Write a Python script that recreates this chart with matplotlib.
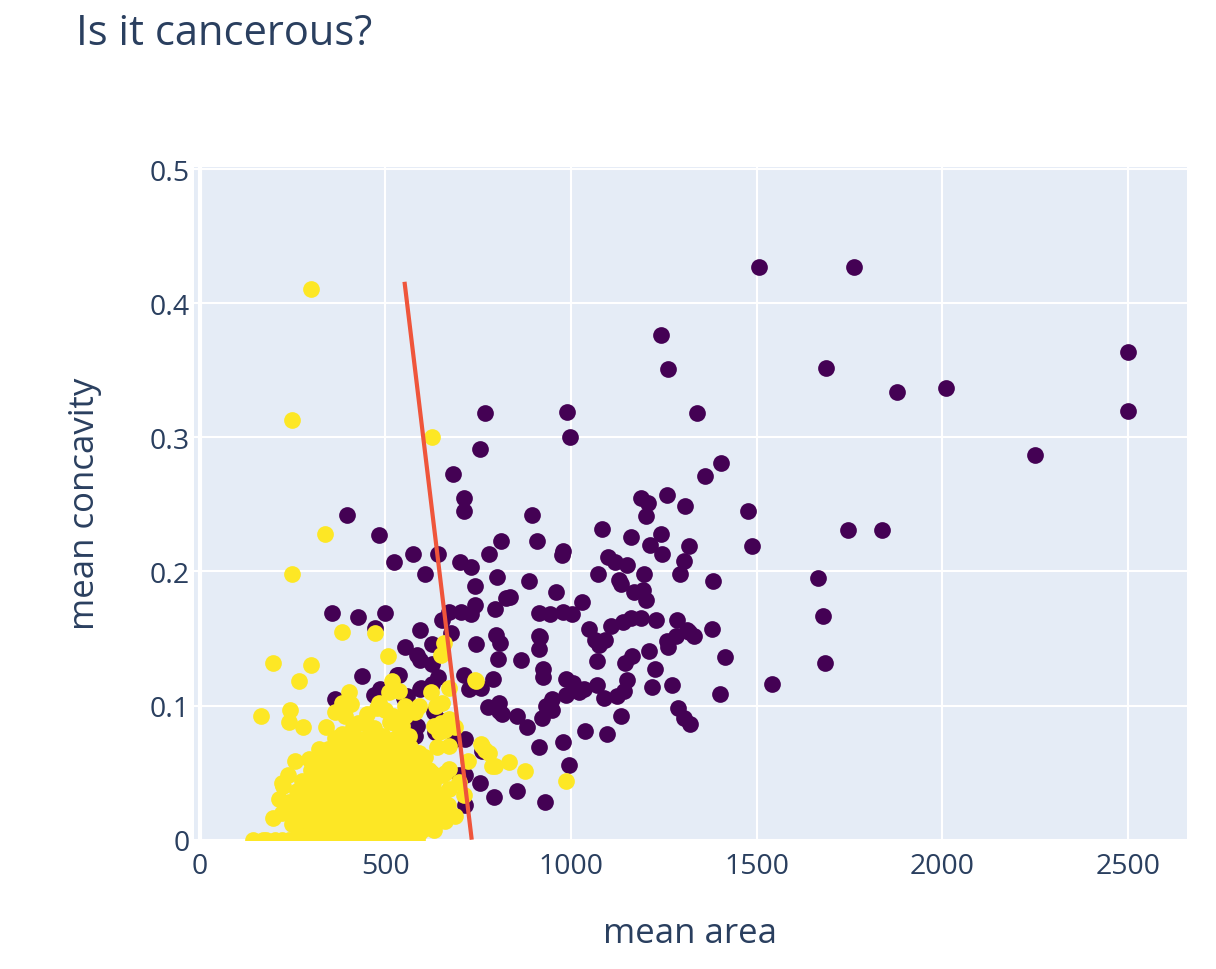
import numpy as np
import matplotlib
matplotlib.use("Agg")
import matplotlib.pyplot as plt

plt.rcParams['font.family'] = ['Open Sans', 'DejaVu Sans']

# malignant tumours (target 0) : (mean area, mean concavity)
malignant = [
    (1506, 0.427), (1762, 0.427), (2499, 0.364), (2499, 0.320), (1686, 0.352),
    (2010, 0.337), (1878, 0.334), (2251, 0.287), (1242, 0.376), (1262, 0.351),
    (1340, 0.318), (1403, 0.281), (1361, 0.271), (1478, 0.245), (1489, 0.219),
    (1745, 0.231), (1839, 0.231), (1666, 0.195), (1679, 0.167), (1683, 0.132),
    (1542, 0.116), (1383, 0.193), (1381, 0.157), (1415, 0.136), (1401, 0.109),
    (990, 0.319), (997, 0.300), (1084, 0.232), (1188, 0.255), (1208, 0.251),
    (1260, 0.257), (1201, 0.241), (1307, 0.249), (1162, 0.226), (1244, 0.228),
    (1214, 0.220), (1246, 0.213), (1318, 0.219), (1304, 0.208), (1294, 0.198),
    (1198, 0.198), (1100, 0.211), (1120, 0.207), (1152, 0.205), (1073, 0.198),
    (1129, 0.194), (1136, 0.191), (1170, 0.185), (1193, 0.186), (1203, 0.179),
    (910, 0.223), (896, 0.242), (979, 0.215), (976, 0.212), (960, 0.185),
    (1029, 0.177), (914, 0.169), (945, 0.168), (979, 0.170), (1003, 0.168),
    (1050, 0.157), (1066, 0.149), (1093, 0.149), (1075, 0.145), (1107, 0.159),
    (1140, 0.162), (1162, 0.165), (1190, 0.165), (1230, 0.164), (1286, 0.164),
    (1258, 0.148), (1262, 0.144), (1282, 0.152), (1314, 0.156), (1331, 0.152),
    (1318, 0.155), (1211, 0.141), (1165, 0.137), (1147, 0.132), (1071, 0.133),
    (1226, 0.127), (914, 0.152), (918, 0.151), (914, 0.142), (924, 0.127),
    (924, 0.121), (1152, 0.119), (1143, 0.111), (1125, 0.107), (1071, 0.115),
    (1089, 0.106), (1219, 0.114), (1271, 0.115), (986, 0.120), (1006, 0.117),
    (1035, 0.112), (988, 0.108), (1021, 0.110), (949, 0.105), (932, 0.100),
    (949, 0.097), (923, 0.091), (1289, 0.098), (1304, 0.091), (1322, 0.086),
    (1134, 0.092), (1038, 0.081), (1098, 0.079), (978, 0.073), (914, 0.069),
    (995, 0.056), (930, 0.028),
    (770, 0.318), (755, 0.291), (682, 0.273), (713, 0.255), (711, 0.245),
    (482, 0.227), (398, 0.242), (813, 0.223), (780, 0.213), (701, 0.207),
    (730, 0.203), (642, 0.213), (575, 0.213), (525, 0.207), (606, 0.198),
    (801, 0.196), (888, 0.193), (741, 0.189), (824, 0.180), (837, 0.181),
    (741, 0.175), (673, 0.170), (703, 0.170), (653, 0.164), (730, 0.168),
    (795, 0.172), (595, 0.156), (676, 0.154), (799, 0.153), (810, 0.147),
    (554, 0.144), (626, 0.146), (745, 0.146), (804, 0.135), (867, 0.134),
    (586, 0.138), (595, 0.134), (626, 0.131), (536, 0.123), (712, 0.123),
    (790, 0.120), (725, 0.112), (757, 0.113), (595, 0.112), (642, 0.121),
    (777, 0.099), (806, 0.102), (806, 0.096), (815, 0.094), (855, 0.092),
    (882, 0.084), (714, 0.075), (716, 0.048), (761, 0.066), (855, 0.036),
    (794, 0.032), (755, 0.042), (358, 0.169), (428, 0.166), (499, 0.169),
    (473, 0.158), (438, 0.122), (532, 0.123), (366, 0.105), (469, 0.108),
    (487, 0.112), (559, 0.107), (597, 0.113), (586, 0.085), (581, 0.077),
    (563, 0.060), (689, 0.075), (716, 0.026), (550, 0.106), (572, 0.085),
    (631, 0.095), (644, 0.089), (635, 0.080), (626, 0.116), (698, 0.048),
]

# benign tumours (target 1)
benign = [
    (300, 0.411), (250, 0.313), (626, 0.300), (338, 0.228), (248, 0.198),
    (385, 0.155), (473, 0.154), (507, 0.137), (199, 0.132), (299, 0.130),
    (269, 0.118), (166, 0.092), (244, 0.097), (240, 0.088), (278, 0.084),
    (341, 0.084), (403, 0.110), (407, 0.101), (385, 0.102), (366, 0.095),
    (393, 0.092), (428, 0.087), (384, 0.079), (482, 0.102), (509, 0.110),
    (517, 0.118), (500, 0.097), (536, 0.111), (527, 0.087), (554, 0.092),
    (590, 0.100), (554, 0.100), (581, 0.095), (649, 0.138), (658, 0.147),
    (743, 0.119), (745, 0.118), (653, 0.102), (622, 0.110), (671, 0.113),
    (636, 0.100), (640, 0.085), (671, 0.090), (644, 0.080), (631, 0.085),
    (662, 0.082), (689, 0.084), (649, 0.087), (536, 0.085), (563, 0.077),
    (554, 0.068), (590, 0.065), (558, 0.068), (640, 0.069), (671, 0.070),
    (722, 0.059), (761, 0.070), (779, 0.065), (788, 0.055), (757, 0.071),
    (768, 0.067), (797, 0.055), (833, 0.058), (876, 0.051), (988, 0.044),
    (626, 0.050), (671, 0.053), (653, 0.048), (662, 0.050), (698, 0.043),
    (671, 0.038), (653, 0.030), (671, 0.020), (662, 0.014), (631, 0.007),
    (689, 0.018), (711, 0.033), (617, 0.043), (608, 0.026), (258, 0.059),
    (294, 0.060), (321, 0.068), (343, 0.064), (238, 0.048), (226, 0.040),
    (222, 0.042), (213, 0.030), (222, 0.020), (199, 0.016),
    (143, 0.0), (170, 0.0), (178, 0.0), (203, 0.0), (221, 0.0), (240, 0.0),
    (268, 0.0), (284, 0.0), (311, 0.0), (330, 0.0), (359, 0.0), (380, 0.0),
    (410, 0.0), (431, 0.0), (465, 0.0), (489, 0.0), (520, 0.0), (555, 0.0),
    (585, 0.0),
    (265, 0.004), (298, 0.006), (332, 0.003), (361, 0.007), (395, 0.005),
    (428, 0.002), (452, 0.008), (488, 0.004), (517, 0.006), (548, 0.003),
    (579, 0.005), (610, 0.009),
    (248, 0.012), (281, 0.015), (315, 0.011), (347, 0.014), (376, 0.013),
    (409, 0.016), (441, 0.012), (470, 0.014), (502, 0.011), (533, 0.015),
    (566, 0.013), (597, 0.012), (640, 0.016),
    (257, 0.020), (290, 0.022), (322, 0.019), (354, 0.023), (388, 0.021),
    (417, 0.020), (446, 0.024), (479, 0.019), (511, 0.022), (541, 0.021),
    (574, 0.023), (605, 0.020), (652, 0.024),
    (242, 0.028), (270, 0.030), (303, 0.027), (336, 0.031), (366, 0.029),
    (398, 0.028), (430, 0.032), (462, 0.029), (493, 0.027), (525, 0.031),
    (556, 0.030), (588, 0.028), (622, 0.032), (668, 0.026),
    (262, 0.036), (296, 0.038), (327, 0.035), (358, 0.039), (392, 0.037),
    (421, 0.036), (455, 0.040), (484, 0.037), (517, 0.035), (549, 0.039),
    (581, 0.038), (612, 0.036), (645, 0.034),
    (275, 0.044), (309, 0.046), (340, 0.043), (372, 0.047), (403, 0.045),
    (436, 0.044), (467, 0.048), (499, 0.045), (530, 0.043), (563, 0.047),
    (595, 0.046), (630, 0.042),
    (300, 0.052), (333, 0.054), (364, 0.051), (395, 0.055), (427, 0.053),
    (458, 0.052), (490, 0.056), (521, 0.053), (553, 0.051), (586, 0.055),
    (618, 0.052),
    (322, 0.060), (352, 0.062), (385, 0.059), (416, 0.063), (447, 0.061),
    (478, 0.060), (512, 0.064), (543, 0.061), (575, 0.059), (606, 0.062),
    (345, 0.068), (378, 0.070), (410, 0.067), (440, 0.071), (471, 0.069),
    (503, 0.068), (534, 0.072), (566, 0.069),
    (365, 0.076), (398, 0.078), (432, 0.075), (463, 0.079), (495, 0.077),
    (528, 0.076),
    (412, 0.084), (447, 0.086), (470, 0.083), (512, 0.088), (545, 0.085),
    (452, 0.094), (478, 0.098), (520, 0.092),
    # second, offset layer of the dense core
    (312, 0.008), (345, 0.009), (378, 0.010), (412, 0.008), (438, 0.007),
    (470, 0.009), (503, 0.008), (533, 0.009), (563, 0.010), (595, 0.006),
    (300, 0.017), (331, 0.018), (362, 0.017), (395, 0.018), (428, 0.017),
    (458, 0.018), (490, 0.017), (522, 0.018), (553, 0.017), (588, 0.018),
    (620, 0.017), (282, 0.025), (315, 0.024), (348, 0.025), (380, 0.026),
    (410, 0.025), (440, 0.026), (471, 0.025), (505, 0.024), (537, 0.026),
    (568, 0.025), (600, 0.024), (635, 0.027), (284, 0.033), (318, 0.034),
    (350, 0.033), (380, 0.034), (412, 0.033), (445, 0.034), (476, 0.033),
    (507, 0.034), (540, 0.033), (570, 0.034), (602, 0.033), (290, 0.041),
    (322, 0.040), (352, 0.041), (385, 0.042), (418, 0.041), (448, 0.042),
    (480, 0.041), (512, 0.040), (545, 0.042), (578, 0.041), (610, 0.041),
    (318, 0.049), (350, 0.050), (382, 0.048), (413, 0.049), (444, 0.050),
    (475, 0.049), (508, 0.048), (540, 0.049), (572, 0.050), (605, 0.048),
    (338, 0.057), (370, 0.057), (402, 0.058), (432, 0.057), (463, 0.058),
    (496, 0.057), (528, 0.058), (560, 0.056), (592, 0.058),
    (360, 0.065), (393, 0.064), (425, 0.065), (456, 0.066), (488, 0.065),
    (520, 0.066), (550, 0.064), (380, 0.073), (415, 0.072), (448, 0.073),
    (480, 0.072), (512, 0.073),
]

# decision boundary drawn over the points
boundary_area = [552, 733]
boundary_concavity = [0.416, 0.0]

x_ticks = [0, 500, 1000, 1500, 2000, 2500]
y_ticks = [0, 0.1, 0.2, 0.3, 0.4, 0.5]

mal = np.array(malignant)
ben = np.array(benign)

text_col = '#2a3f5f'
fig = plt.figure(figsize=(12.16, 9.70), dpi=100)
ax = fig.add_axes([0.1595, 0.1333, 0.8166, 0.6935])
ax.set_facecolor('#E5ECF6')

ax.scatter(mal[:, 0], mal[:, 1], s=145, color='#440154', linewidths=0, zorder=3)
ax.scatter(ben[:, 0], ben[:, 1], s=145, color='#fde725', linewidths=0, zorder=4)
ax.plot(boundary_area, boundary_concavity, color='#EF553B', lw=3, zorder=5,
        solid_capstyle='butt')

ax.set_xlim(-15, 2659)
ax.set_ylim(0, 0.5016)
ax.set_xticks(x_ticks)
ax.set_yticks(y_ticks)
ax.set_xticklabels([str(t) for t in x_ticks])
ax.set_yticklabels(['0', '0.1', '0.2', '0.3', '0.4', '0.5'])
ax.grid(True, color='white', lw=1.5, zorder=0)
ax.set_axisbelow(True)
ax.axvline(0, color='white', lw=3, zorder=1)
for s in ax.spines.values():
    s.set_visible(False)
ax.tick_params(length=0, labelsize=20.5, labelcolor=text_col, pad=9)
ax.tick_params(axis='y', pad=3)

ax.set_xlabel('mean area', fontsize=25, color=text_col, labelpad=26)
ax.set_ylabel('mean concavity', fontsize=25, color=text_col, labelpad=34)

fig.text(76 / 1216, 1 - 45 / 970, 'Is it cancerous?', fontsize=30,
         color=text_col, va='baseline', ha='left')

fig.savefig('out.png', dpi=100)
